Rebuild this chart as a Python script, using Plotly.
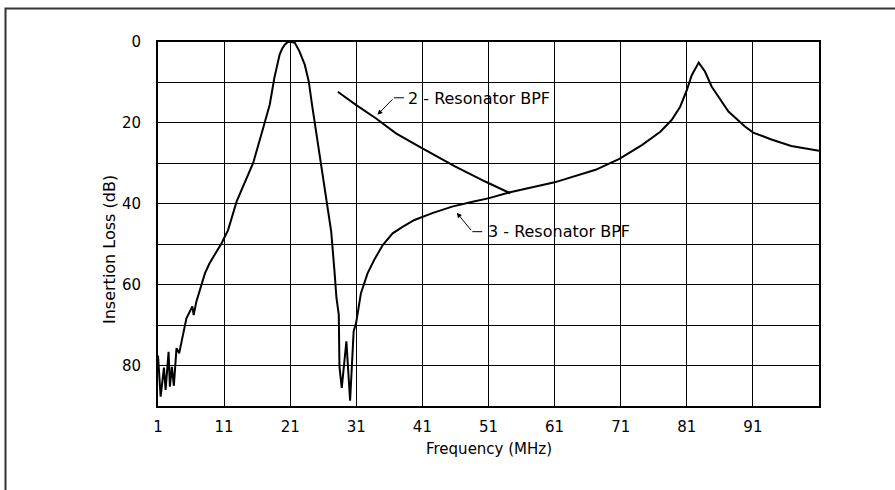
import plotly.graph_objects as go

# 3-Resonator BPF (full sweep)
freq3 = [1.0, 1.4, 1.9, 2.15, 2.6, 2.8, 3.1, 3.4, 3.8, 4.2, 5.3, 5.8, 6.2, 6.4, 6.8,
         8.1, 8.8, 10.6, 11.6, 12.9, 15.4, 16.9, 17.9, 18.6, 19.4, 19.8, 20.2, 20.65, 21.2,
         21.7, 22.4, 23.2, 23.8, 24.3, 25.0, 25.7, 26.4, 27.2, 27.7, 28.0, 28.35, 28.45, 28.8,
         29.5, 30.06, 30.6, 30.97, 31.7, 32.7, 33.7, 35.0, 36.5, 38.0, 39.8, 42.5, 45.5,
         48.6, 51.1, 54.1, 61.0, 67.2, 70.8, 74.2, 77.0, 78.7, 80.0, 81.0, 81.75, 82.8,
         83.75, 84.75, 87.3, 89.8, 91.05, 93.8, 96.8, 101.0]
loss3 = [77.5, 87.7, 80.5, 86.0, 76.6, 85.2, 80.3, 85.0, 75.7, 77.0, 68.3, 66.7, 65.4, 67.5, 64.2,
         57.2, 54.7, 49.8, 46.5, 39.4, 29.9, 21.3, 15.5, 8.9, 3.1, 1.6, 0.6, 0.0, 0.0,
         0.2, 2.3, 5.6, 9.7, 15.5, 22.9, 30.3, 38.6, 46.8, 56.7, 63.3, 67.4, 80.2, 85.5,
         74.0, 88.7, 71.5, 69.5, 62.1, 57.2, 53.9, 50.2, 47.3, 45.7, 44.0, 42.3, 40.7,
         39.5, 38.6, 37.2, 34.7, 31.6, 28.9, 25.5, 22.2, 19.3, 16.0, 11.9, 8.2, 5.1,
         7.3, 11.0, 17.2, 20.9, 22.4, 24.1, 25.7, 26.9]

# 2-Resonator BPF (partial)
freq2 = [28.2, 31.0, 34.0, 37.0, 41.0, 46.0, 50.5, 54.3]
loss2 = [12.3, 15.6, 18.9, 22.6, 26.3, 30.8, 34.5, 37.4]

x_ticks = [1, 11, 21, 31, 41, 51, 61, 71, 81, 91]
y_ticks = [0, 10, 20, 30, 40, 50, 60, 70, 80]
y_text = ["0", "", "20", "", "40", "", "60", "", "80"]

label2 = "2 - Resonator BPF"
label3 = "3 - Resonator BPF"

FONT = "DejaVu Sans"

fig = go.Figure()
fig.add_trace(go.Scatter(x=freq3, y=loss3, mode="lines",
                         line=dict(color="black", width=2), showlegend=False))
fig.add_trace(go.Scatter(x=freq2, y=loss2, mode="lines",
                         line=dict(color="black", width=2), showlegend=False))

# leader lines + arrows
fig.add_annotation(x=34.2, y=18.0, ax=36.7, ay=13.8, axref="x", ayref="y",
                   xref="x", yref="y", text="", showarrow=True,
                   arrowhead=2, arrowsize=1, arrowwidth=1, arrowcolor="black")
fig.add_shape(type="line", x0=36.7, y0=13.8, x1=38.2, y1=13.8, xref="x", yref="y",
              line=dict(color="black", width=1))
fig.add_annotation(x=38.5, y=13.9, xref="x", yref="y", text=label2, showarrow=False,
                   xanchor="left", yanchor="middle",
                   font=dict(family=FONT, size=16, color="black"))

fig.add_annotation(x=46.2, y=42.2, ax=48.55, ay=46.9, axref="x", ayref="y",
                   xref="x", yref="y", text="", showarrow=True,
                   arrowhead=2, arrowsize=1, arrowwidth=1, arrowcolor="black")
fig.add_shape(type="line", x0=48.55, y0=46.9, x1=50.05, y1=46.9, xref="x", yref="y",
              line=dict(color="black", width=1))
fig.add_annotation(x=50.6, y=46.9, xref="x", yref="y", text=label3, showarrow=False,
                   xanchor="left", yanchor="middle",
                   font=dict(family=FONT, size=16, color="black"))

# axis titles
fig.add_annotation(x=-0.0726, y=0.4286, xref="paper", yref="paper",
                   text="Insertion Loss (dB)", textangle=-90, showarrow=False,
                   xanchor="center", yanchor="middle",
                   font=dict(family=FONT, size=16, color="black"))
fig.add_annotation(x=0.5, y=-0.118, xref="paper", yref="paper",
                   text="Frequency (MHz)", showarrow=False,
                   xanchor="center", yanchor="middle",
                   font=dict(family=FONT, size=15, color="black"))

# outer frame (top and left edges)
fig.add_shape(type="path", xref="paper", yref="paper",
              path="M -0.2307 -0.3 L -0.2307 1.092 L 1.2 1.092",
              line=dict(color="#333333", width=2))

fig.update_layout(
    width=895, height=490,
    margin=dict(l=158, r=76, t=42, b=84),
    paper_bgcolor="white", plot_bgcolor="white",
    font=dict(family=FONT, size=15, color="black"),
    xaxis=dict(range=[1, 101], tickvals=x_ticks, ticktext=[str(v) for v in x_ticks],
               showgrid=True, gridcolor="black", gridwidth=1, zeroline=False,
               showline=True, linecolor="black", linewidth=2, mirror=True,
               ticks="", ticklabelstandoff=6),
    yaxis=dict(range=[90, 0], tickvals=y_ticks, ticktext=y_text,
               showgrid=True, gridcolor="black", gridwidth=1, zeroline=False,
               showline=True, linecolor="black", linewidth=2, mirror=True,
               ticks="", ticklabelstandoff=12),
)

fig.write_html("out.html")
